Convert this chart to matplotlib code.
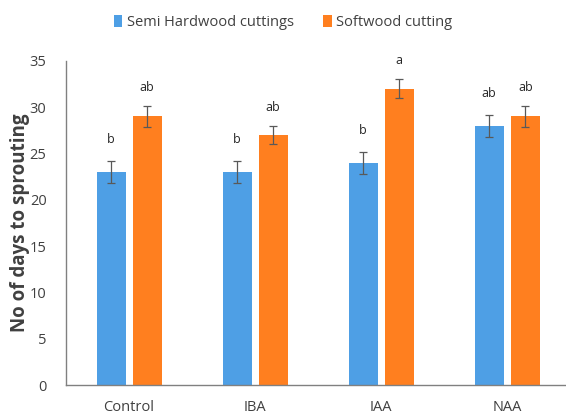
import numpy as np
import matplotlib
matplotlib.use("Agg")
import matplotlib.pyplot as plt

# Days to sprouting by hormone treatment
treatments = ["Control", "IBA", "IAA", "NAA"]
semi_hardwood = [23, 23, 24, 28]
softwood = [29, 27, 32, 29]
semi_err = [1.2, 1.2, 1.2, 1.2]
soft_err = [1.1, 1.0, 1.0, 1.1]
semi_letters = ["b", "b", "b", "ab"]
soft_letters = ["ab", "ab", "a", "ab"]

BLUE = "#4E9FE5"
ORANGE = "#FF7F1F"
TEXT = "#404040"

plt.rcParams["font.family"] = ["Open Sans", "DejaVu Sans"]

fig = plt.figure(figsize=(5.66, 4.16), dpi=100)
ax = fig.add_axes([0.1166, 0.0745, 0.891, 0.779])

x = np.arange(len(treatments))
width = 0.23
offset = 0.143

ax.bar(x - offset, semi_hardwood, width, color=BLUE, label="Semi Hardwood cuttings",
       yerr=semi_err, error_kw=dict(ecolor="#595959", elinewidth=0.9, capsize=3, capthick=0.9))
ax.bar(x + offset, softwood, width, color=ORANGE, label="Softwood cutting",
       yerr=soft_err, error_kw=dict(ecolor="#595959", elinewidth=0.9, capsize=3, capthick=0.9))

for i in range(len(treatments)):
    ax.text(x[i] - offset, semi_hardwood[i] + semi_err[i] + 2.3, semi_letters[i],
            ha="center", va="center", fontsize=9, color="#262626")
    ax.text(x[i] + offset, softwood[i] + soft_err[i] + 2.0, soft_letters[i],
            ha="center", va="center", fontsize=9, color="#262626")

ax.set_xlim(-0.5, 3.5)
ax.set_ylim(0, 35)
ax.set_yticks(range(0, 36, 5))
ax.set_xticks(x)
ax.set_xticklabels(treatments)
ax.tick_params(axis="both", length=0, labelsize=10.5, colors=TEXT)
ax.tick_params(axis="x", pad=11)
ax.tick_params(axis="y", pad=14)
ax.set_ylabel("No of days to sprouting", fontsize=13.5, fontweight="bold", color=TEXT, labelpad=0)

for side in ["top", "right"]:
    ax.spines[side].set_visible(False)
for side in ["left", "bottom"]:
    ax.spines[side].set_color("#808080")
    ax.spines[side].set_linewidth(1.0)

fig.legend(loc="center", bbox_to_anchor=(0.5, 0.947), ncol=2, frameon=False,
           fontsize=10.5, handlelength=0.6, handleheight=0.9, handletextpad=0.3,
           columnspacing=2.0, labelcolor=TEXT)

fig.savefig("out.png", dpi=100)
